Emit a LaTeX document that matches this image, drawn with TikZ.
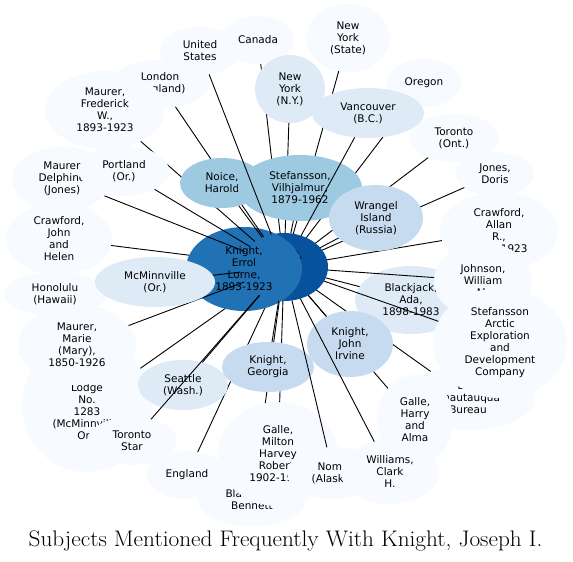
\documentclass[tikz,border=0pt]{standalone}
\usepackage{fontspec}
\newfontfamily\lblfont{DejaVu Sans}
\usetikzlibrary{shapes.geometric}
\definecolor{cA}{HTML}{08519C}
\definecolor{cB}{HTML}{2171B5}
\definecolor{cC}{HTML}{9ECAE1}
\definecolor{cD}{HTML}{C6DBEF}
\definecolor{cE}{HTML}{DEEBF7}
\definecolor{cF}{HTML}{F7FBFF}
\tikzset{
  bubble/.style={ellipse, draw=none, inner sep=0pt, outer sep=0pt},
  lbl/.style={inner sep=0pt, align=center, font=\lblfont\fontsize{10.5}{12}\selectfont},
  edge/.style={draw=black, line width=0.9pt},
  ttl/.style={inner sep=0pt, anchor=base, font=\fontsize{22.5}{26}\selectfont}
}
\newcommand\bub[7]{%
  \node[bubble, fill=#2, minimum width={2*#5pt}, minimum height={2*#6pt}] (#1) at (#3,#4) {};
  \node[lbl] (#1-t) at (#3,#4) {#7};}
\newcommand\lnk[1]{\draw[edge] (c) -- (#1);}
\begin{document}
\begin{tikzpicture}[x=1pt,y=-1pt]
\useasboundingbox (0,0) rectangle (573,562);
\fill[white] (0,0) rectangle (573,562);
\bub{c}{cA}{284}{267}{44}{34}{Knight,\\Joseph\\I.}
\bub{bja}{cE}{411}{300}{56}{34}{Blackjack,\\Ada,\\1898-1983}\lnk{bja}
\bub{bjb}{cF}{252}{500}{54}{26}{Blackjack,\\Bennett}\lnk{bjb}
\bub{can}{cF}{258}{40}{36}{24}{Canada}\lnk{can}
\bub{cra}{cF}{499}{231}{59}{39}{Crawford,\\Allan\\R.,\\1901-1923}\lnk{cra}
\bub{crj}{cF}{59}{239}{53}{36}{Crawford,\\John\\and\\Helen}\lnk{crj}
\bub{elk}{cF}{87}{406}{65}{66}{Elks\\Lodge\\No.\\1283\\(McMinnville,\\Or.)}\lnk{elk}
\bub{ell}{cF}{468}{398}{67}{32}{Ellis\\Chautauqua\\Bureau}\lnk{ell}
\bub{eng}{cF}{187}{475}{40}{24}{England}\lnk{eng}
\bub{gha}{cF}{415}{420}{38}{45}{Galle,\\Harry\\and\\Alma}\lnk{gha}
\bub{gmi}{cF}{278}{454}{60}{52}{Galle,\\Milton\\Harvey\\Robert,\\1902-1923}\lnk{gmi}
\bub{hon}{cF}{55}{294}{51}{22}{Honolulu\\(Hawaii)}\lnk{hon}
\bub{joh}{cF}{483}{281}{49}{38}{Johnson,\\William\\M.}\lnk{joh}
\bub{jon}{cF}{495}{174}{39}{22}{Jones,\\Doris}\lnk{jon}
\bub{kel}{cB}{244}{269}{58}{42}{Knight,\\Errol\\Lorne,\\1893-1923}
\bub{kge}{cD}{268}{367}{46}{25}{Knight,\\Georgia}\lnk{kge}
\bub{kjo}{cD}{350}{344}{43}{33}{Knight,\\John\\Irvine}\lnk{kjo}
\bub{lon}{cF}{160}{84}{50}{24}{London\\(England)}\lnk{lon}
\bub{mde}{cF}{62}{179}{50}{32}{Maurer\\Delphine\\(Jones)}\lnk{mde}
\bub{mfr}{cF}{105}{110}{60}{39}{Maurer,\\Frederick\\W.,\\1893-1923}\lnk{mfr}
\bub{mma}{cF}{77}{345}{59}{40}{Maurer,\\Marie\\(Mary),\\1850-1926}\lnk{mma}
\bub{mcm}{cE}{155}{282}{60}{25}{McMinnville\\(Or.)}\lnk{mcm}
\bub{nyc}{cE}{290}{89}{35}{34}{New\\York\\(N.Y.)}\lnk{nyc}
\bub{nys}{cF}{348}{38}{42}{34}{New\\York\\(State)}\lnk{nys}
\bub{noi}{cC}{222}{183}{42}{25}{Noice,\\Harold}\lnk{noi}
\bub{nom}{cF}{333}{473}{46}{26}{Nome\\(Alaska)}\lnk{nom}
\bub{ore}{cF}{424}{83}{37}{24}{Oregon}\lnk{ore}
\bub{por}{cF}{124}{171}{45}{25}{Portland\\(Or.)}\lnk{por}
\bub{sea}{cE}{183}{385}{45}{25}{Seattle\\(Wash.)}\lnk{sea}
\bub{sae}{cF}{500}{343}{67}{55}{Stefansson\\Arctic\\Exploration\\and\\Development\\Company}\lnk{sae}
\bub{stv}{cC}{300}{188}{62}{33}{Stefansson,\\Vilhjalmur,\\1879-1962}\lnk{stv}
\bub{tor}{cF}{454}{138}{45}{24}{Toronto\\(Ont.)}\lnk{tor}
\bub{tst}{cF}{132}{441}{45}{24}{Toronto\\Star}\lnk{tst}
\bub{usa}{cF}{200}{51}{40}{24}{United\\States}\lnk{usa}
\bub{van}{cE}{368}{113}{56}{25}{Vancouver\\(B.C.)}\lnk{van}
\bub{wil}{cF}{390}{472}{49}{32}{Williams,\\Clark\\H.}\lnk{wil}
\bub{wra}{cD}{376}{218}{47}{33}{Wrangel\\Island\\(Russia)}\lnk{wra}
\node[ttl] (title) at (285.5,546) {\scalebox{1.035}[1]{Subjects Mentioned Frequently With Knight, Joseph I.}};
\end{tikzpicture}
\end{document}
